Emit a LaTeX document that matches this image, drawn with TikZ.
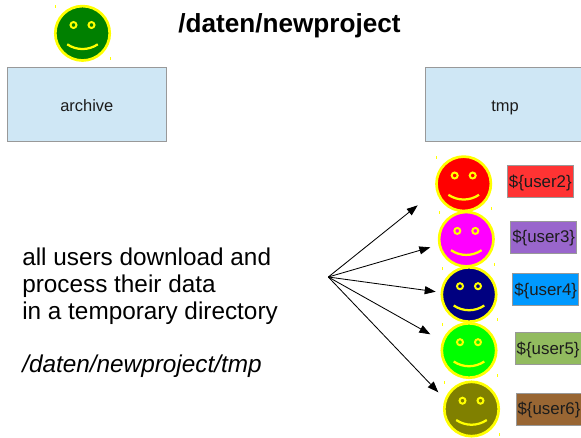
\documentclass[tikz,border=0pt]{standalone}
\usepackage{fontspec}
\setmainfont{Liberation Sans}
\usetikzlibrary{arrows.meta}
\definecolor{boxblue}{HTML}{CFE7F5}
\definecolor{boxgray}{HTML}{999999}
\definecolor{textgray}{HTML}{1C1C1C}
\definecolor{faceyellow}{HTML}{FFFF00}
\definecolor{facegreen}{HTML}{008000}
\definecolor{facered}{HTML}{FF0000}
\definecolor{facemagenta}{HTML}{FF00FF}
\definecolor{facenavy}{HTML}{000080}
\definecolor{facelime}{HTML}{00FF00}
\definecolor{faceolive}{HTML}{808000}
\tikzset{
	>={Triangle[length=7.8pt,width=5.7pt]},
	dirbox/.style={draw=boxgray, line width=0.6pt, fill=boxblue, text=textgray, minimum width=3.975cm, minimum height=1.85cm, inner sep=0pt, text height=10.2pt, text depth=0pt, font=\fontsize{11.7}{14}\selectfont},
	userbox/.style={draw=boxgray, line width=0.6pt, text=textgray, minimum width=1.65cm, minimum height=0.8cm, inner sep=0pt, text height=11pt, text depth=2.5pt, font=\fontsize{12}{14}\selectfont},
	face/.style={circle, draw=faceyellow, line width=1.9pt, minimum size=1.36cm, inner sep=0pt},
	eye/.style={draw=faceyellow, line width=1.4pt},
	bigtext/.style={align=left, anchor=west, inner sep=0pt, font=\fontsize{17.3}{19.2}\selectfont}
}
% name, position, colour
\newcommand{\smiley}[3]{
	\node[face, fill=#3] (#1) at (#2) {};
	\begin{scope}[shift={(#2)}]
		\draw[eye] (-9,-8.3) circle[radius=3];
		\draw[eye] (9,-8.3) circle[radius=3];
		\draw[faceyellow, line width=1.6pt] (-15.3,11) .. controls (-6,17.3) and (6,17.3) .. (15.3,11);
		% Marcas
		\fill[faceyellow] (-27.5,-28) rectangle (-26.5,-25);
		\fill[faceyellow] (27.5,23.5) rectangle (28.5,26.5);
	\end{scope}
}
\begin{document}
\begin{tikzpicture}[x=0.025cm, y=-0.025cm]
	\useasboundingbox (0,0) rectangle (581,437);

	% Titulo
		\node[anchor=west, inner sep=0pt, font=\fontsize{18.6}{22}\selectfont\bfseries] (title) at (178,26) {/daten/newproject};

	% Directorios
		\node[dirbox] (archive) at (86.8,104.7) {archive};
		\node[dirbox] (tmp) at (505,104.7) {tmp};

	% Caras
		\smiley{facearchive}{82.5,33.3}{facegreen}
		\smiley{facetwo}{463.7,183.8}{facered}
		\smiley{facethree}{466.3,239.2}{facemagenta}
		\smiley{facefour}{469,294.5}{facenavy}
		\smiley{facefive}{469,350.5}{facelime}
		\smiley{facesix}{471.5,409}{faceolive}

	% Usuarios
		\node[userbox, fill={rgb,255:red,255;green,51;blue,51}] (usertwo) at (540.3,181.3) {\$\{user2\}};
		\node[userbox, fill={rgb,255:red,153;green,102;blue,204}] (userthree) at (543.7,237) {\$\{user3\}};
		\node[userbox, fill={rgb,255:red,0;green,153;blue,255}] (userfour) at (545.7,289.8) {\$\{user4\}};
		\node[userbox, fill={rgb,255:red,146;green,187;blue,95}] (userfive) at (548.1,348.2) {\$\{user5\}};
		\node[userbox, fill={rgb,255:red,153;green,102;blue,51}] (usersix) at (549,409) {\$\{user6\}};

	% Texto
		\node[bigtext] (info) at (22,286) {all users download and\\process their data\\in a temporary directory};
		\node[bigtext, font=\fontsize{17.3}{19.2}\selectfont\itshape] (path) at (22,366) {/daten/newproject/tmp};

	% Flechas
		\coordinate (start) at (328.3,277);
		\coordinate (endtwo) at (417.7,205.3);
		\coordinate (endthree) at (430.3,247.3);
		\coordinate (endfour) at (435.7,291.7);
		\coordinate (endfive) at (430.3,334.3);
		\coordinate (endsix) at (438.3,392.3);
		\draw[->, line width=0.6pt] (start) -- (endtwo);
		\draw[->, line width=0.6pt] (start) -- (endthree);
		\draw[->, line width=0.6pt] (start) -- (endfour);
		\draw[->, line width=0.6pt] (start) -- (endfive);
		\draw[->, line width=0.6pt] (start) -- (endsix);
\end{tikzpicture}
\end{document}
